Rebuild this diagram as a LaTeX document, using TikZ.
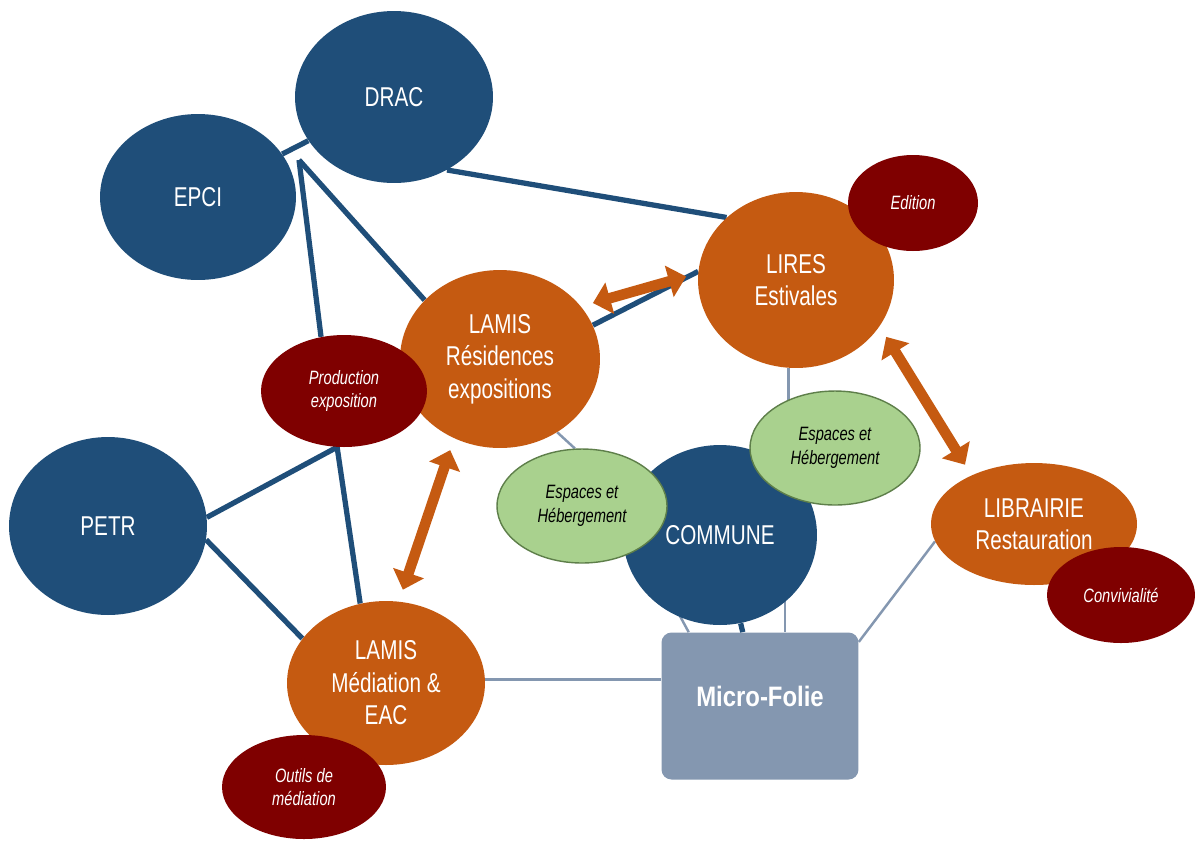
\documentclass[tikz,border=0pt]{standalone}
\usepackage{fontspec}
\setmainfont{Liberation Sans}[FakeStretch=0.76]
\newfontfamily\microfont{Liberation Sans}[FakeStretch=0.85]
\usetikzlibrary{shapes.geometric,arrows.meta,backgrounds}
\definecolor{bleu}{HTML}{1F4E79}
\definecolor{orangeL}{HTML}{C55A11}
\definecolor{bordeaux}{HTML}{7F0000}
\definecolor{vert}{HTML}{A9D18E}
\definecolor{vertfonce}{HTML}{5E7F4A}
\definecolor{gris}{HTML}{8497B0}
\begin{document}
\begin{tikzpicture}[x=0.02cm,y=-0.02cm,
        grand/.style={ellipse,inner sep=0pt,text=white,align=center,font=\fontsize{15.5}{18.5}\selectfont},
        acteur/.style={grand,fill=bleu},
        projet/.style={grand,fill=orangeL},
        petit/.style={ellipse,inner sep=0pt,align=center,font=\fontsize{11}{13.5}\selectfont\itshape},
        theme/.style={petit,fill=bordeaux,text=white},
        lieu/.style={petit,fill=vert,draw=vertfonce,line width=0.8pt},
        lien/.style={bleu,line width=3pt},
        fil/.style={gris,line width=1.4pt},
        echange/.style={orangeL,line width=6pt,{Triangle[width=18pt,length=10pt]}-{Triangle[width=18pt,length=10pt]},shorten <=7pt,shorten >=7pt}]
            \useasboundingbox (0,0) rectangle (1195,843);
            \node [acteur, minimum width=3.92cm, minimum height=3.32cm] (epci) at (198,197) {EPCI};
            \node [acteur, minimum width=3.96cm, minimum height=3.44cm] (drac) at (394,97) {DRAC};
            \node [acteur, minimum width=3.96cm, minimum height=3.56cm] (petr) at (108,526) {PETR};
            \node [acteur, minimum width=3.88cm, minimum height=3.6cm] (commune) at (720,535) {COMMUNE};
            \node [projet, minimum width=4cm, minimum height=3.56cm] (lamisres) at (500,359) {LAMIS\\Résidences\\expositions};
            \node [projet, minimum width=3.92cm, minimum height=3.52cm] (lires) at (796,280) {LIRES\\Estivales};
            \node [projet, minimum width=3.96cm, minimum height=3.28cm] (lamismed) at (386,683) {LAMIS\\Médiation \&\\EAC};
            \node [projet, minimum width=4.12cm, minimum height=2.44cm] (librairie) at (1034,524) {LIBRAIRIE\\Restauration};
            \node [theme, minimum width=3.32cm, minimum height=2.24cm] (prod) at (344,391) {Production\\exposition};
            \node [theme, minimum width=2.6cm, minimum height=1.92cm] (edition) at (913,203) {Edition};
            \node [theme, minimum width=3.28cm, minimum height=2.08cm] (outils) at (304,787) {Outils de\\médiation};
            \node [theme, minimum width=2.96cm, minimum height=1.92cm] (convi) at (1121,595) {Convivialité};
            \node [lieu, minimum width=3.4cm, minimum height=2.28cm] (esp1) at (582,506) {Espaces et\\Hébergement};
            \node [lieu, minimum width=3.4cm, minimum height=2.28cm] (esp2) at (835,448) {Espaces et\\Hébergement};
            \node [rectangle, rounded corners=0.2cm, fill=gris, minimum width=3.94cm, minimum height=2.94cm, text=white,
                font=\microfont\bfseries\fontsize{16}{19}\selectfont, text height=12pt, text depth=12pt] (micro) at (760,706) {Micro-Folie};
            \coordinate (hub) at (299,160);
            \begin{pgfonlayer}{background}
            \fill [white] (0,0) rectangle (1195,843);
            \draw [lien] (epci) -- (drac);
            \draw [lien] (hub) -- (prod.113);
            \draw [lien] (hub) -- (lamisres.142);
            \draw [lien] (drac.-54) -- (lires.138);
            \draw [lien] (lamisres.20) -- (lires.175);
            \draw [lien] (prod.-97) -- (petr.5);
            \draw [lien] (prod.-97) -- (lamismed.108);
            \draw [lien] (petr.-8) -- (lamismed.152);
            \draw [lien] (commune) -- (micro);
            \draw [fil] (lamisres.-52) -- (esp1.97);
            \draw [fil] (lires.-95) -- (lires.-95 |- esp2.center);
            \draw [fil] (esp1.-34) -- (micro.134);
            \draw [fil] (esp2.223) -- (esp2.223 |- micro.north);
            \draw [fil] (lamismed.2) -- (lamismed.2 -| micro.west);
            \draw [fil] (micro.33) -- (librairie.190);
            \end{pgfonlayer}
            \draw [echange] (lamisres.33) -- (lires.176);
            \draw [echange] (lires.-29) -- (librairie.142);
            \draw [echange] (lamisres.240) -- (lamismed.81);
\end{tikzpicture}
\end{document}
